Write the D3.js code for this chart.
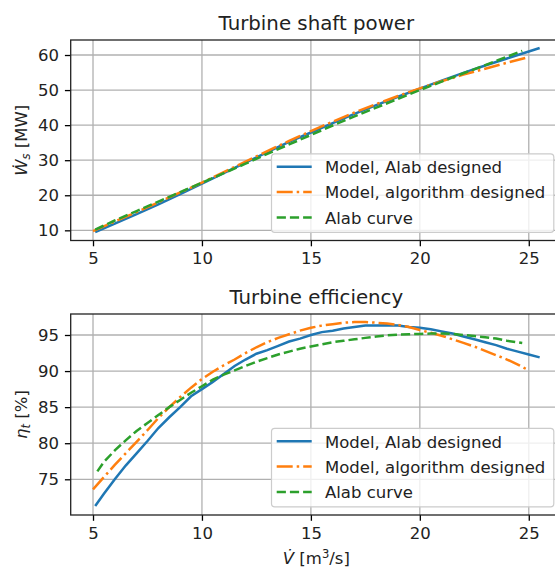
<!DOCTYPE html>
<html>
<head>
<meta charset="utf-8">
<script src="https://cdn.jsdelivr.net/npm/d3@7"></script>
<style>
  body { margin: 0; background: #fff; }
  svg { display: block; font-family: "DejaVu Sans", sans-serif; }
</style>
</head>
<body>
<svg width="555" height="571"></svg>
<script>
// top panel: shaft power [MW]
const xBluePow = [5.1, 6, 7, 8, 9, 10, 11, 12, 13, 14, 15, 16, 17, 18, 19, 20, 21, 22, 23, 24, 25, 25.5];
const bluePow = [9.5, 11.9, 14.6, 17.4, 20.3, 23.3, 26.3, 29.3, 32.3, 35.2, 37.9, 40.6, 43.2, 45.7, 48.1, 50.4, 52.7, 54.9, 57.0, 59.0, 61.0, 62.0];
const xOrangePow = [5, 6, 7, 8, 9, 10, 11, 12, 13, 14, 15, 16, 17, 18, 19, 20, 21, 22, 23, 24, 25];
const orangePow = [9.8, 12.5, 15.2, 18.0, 20.8, 23.6, 26.6, 29.6, 32.6, 35.5, 38.3, 41.0, 43.6, 46.0, 48.3, 50.5, 52.5, 54.4, 56.1, 57.8, 59.4];
const xGreenPow = [5.1, 6, 7, 8, 9, 10, 11, 12, 13, 14, 15, 16, 17, 18, 19, 20, 21, 22, 23, 24, 24.7];
const greenPow = [10.2, 12.8, 15.5, 18.2, 20.9, 23.6, 26.3, 29.0, 31.8, 34.5, 37.2, 39.9, 42.5, 45.0, 47.5, 50.0, 52.4, 54.8, 57.1, 59.5, 61.2];

// bottom panel: efficiency [%]
const xBlueEff = [5.1, 5.5, 6, 6.5, 7, 7.5, 8, 8.5, 9, 9.5, 10, 10.5, 11, 11.5, 12, 12.5, 13, 13.5, 14, 14.5, 15, 15.5, 16, 16.5, 17, 17.5, 18, 18.5, 19, 19.5, 20, 20.5, 21, 21.5, 22, 22.5, 23, 23.5, 24, 24.5, 25, 25.5];
const blueEff = [71.3, 73.0, 75.0, 76.9, 78.6, 80.3, 82.1, 83.6, 85.0, 86.5, 87.5, 88.5, 89.6, 90.7, 91.6, 92.4, 92.9, 93.5, 94.1, 94.5, 95.0, 95.4, 95.6, 95.9, 96.1, 96.3, 96.3, 96.35, 96.3, 96.1, 96.0, 95.8, 95.5, 95.2, 94.8, 94.4, 94.0, 93.6, 93.1, 92.7, 92.3, 91.9];
const xOrangeEff = [5, 5.5, 6, 6.5, 7, 7.5, 8, 8.5, 9, 9.5, 10, 10.5, 11, 11.5, 12, 12.5, 13, 13.5, 14, 14.5, 15, 15.5, 16, 16.5, 17, 17.5, 18, 18.5, 19, 19.5, 20, 20.5, 21, 21.5, 22, 22.5, 23, 23.5, 24, 24.5, 25];
const orangeEff = [73.6, 75.3, 77.0, 78.6, 80.2, 81.8, 83.5, 85.0, 86.4, 87.7, 88.9, 89.9, 90.8, 91.6, 92.5, 93.3, 94.0, 94.6, 95.1, 95.6, 96.0, 96.3, 96.5, 96.7, 96.8, 96.8, 96.7, 96.6, 96.4, 96.1, 95.7, 95.3, 94.9, 94.4, 93.9, 93.4, 92.8, 92.2, 91.6, 90.9, 90.1];
const xGreenEff = [5.2, 5.5, 6, 6.5, 7, 7.5, 8, 8.5, 9, 9.5, 10, 10.5, 11, 11.5, 12, 12.5, 13, 13.5, 14, 14.5, 15, 15.5, 16, 16.5, 17, 17.5, 18, 18.5, 19, 19.5, 20, 20.5, 21, 21.5, 22, 22.5, 23, 23.5, 24, 24.7];
const greenEff = [76.1, 77.4, 79.0, 80.4, 81.7, 82.8, 83.9, 85.0, 86.0, 87.0, 87.9, 88.8, 89.5, 90.1, 90.7, 91.3, 91.8, 92.3, 92.7, 93.1, 93.4, 93.7, 94.0, 94.2, 94.4, 94.6, 94.8, 94.95, 95.05, 95.1, 95.15, 95.2, 95.2, 95.15, 95.0, 94.85, 94.7, 94.5, 94.2, 93.9];

const xTicks = [5, 10, 15, 20, 25];
const powTicks = [10, 20, 30, 40, 50, 60];
const effTicks = [75, 80, 85, 90, 95];
const legendLabels = ["Model, Alab designed", "Model, algorithm designed", "Alab curve"];
const colors = ["#1f77b4", "#ff7f0e", "#2ca02c"];
const dashes = [null, "16,4,2.5,4", "9.2,4"];

const svg = d3.select("svg");
const fs = 16.5;

function panel(cfg) {
  const x = d3.scaleLinear().domain([3.976, 26.525]).range([70.7, 562]);
  const y = d3.scaleLinear().domain(cfg.yDomain).range(cfg.yRange);
  const g = svg.append("g");
  const [top, bottom] = [cfg.yRange[1], cfg.yRange[0]];

  // grid
  g.selectAll(".gx").data(xTicks).join("line")
    .attr("x1", d => x(d)).attr("x2", d => x(d))
    .attr("y1", top).attr("y2", bottom)
    .attr("stroke", "#b0b0b0").attr("stroke-width", 1.3);
  g.selectAll(".gy").data(cfg.yTicks).join("line")
    .attr("x1", 70.7).attr("x2", 562)
    .attr("y1", d => y(d)).attr("y2", d => y(d))
    .attr("stroke", "#b0b0b0").attr("stroke-width", 1.3);

  // lines
  const line = d3.line().x(d => x(d[0])).y(d => y(d[1]));
  cfg.series.forEach((s, i) => {
    g.append("path")
      .datum(d3.zip(s[0], s[1]))
      .attr("d", line)
      .attr("fill", "none")
      .attr("stroke", colors[i])
      .attr("stroke-width", 2.5)
      .attr("stroke-dasharray", dashes[i]);
  });

  // axes
  const xAxis = g.append("g").attr("transform", `translate(0,${bottom})`)
    .call(d3.axisBottom(x).tickValues(xTicks).tickSize(5.8).tickPadding(6));
  const yAxis = g.append("g").attr("transform", "translate(70.7,0)")
    .call(d3.axisLeft(y).tickValues(cfg.yTicks).tickSize(5.8).tickPadding(6));
  [xAxis, yAxis].forEach(a => {
    a.select(".domain").remove();
    a.selectAll("line").attr("stroke", "#000").attr("stroke-width", 1.3);
    a.selectAll("text").attr("font-size", fs).attr("fill", "#222")
      .attr("font-family", "DejaVu Sans");
  });

  // frame
  g.append("rect").attr("x", 70.7).attr("y", top)
    .attr("width", 562 - 70.7).attr("height", bottom - top)
    .attr("fill", "none").attr("stroke", "#222").attr("stroke-width", 1.3);

  // title
  g.append("text").attr("x", (70.7 + 562) / 2).attr("y", top - 10)
    .attr("text-anchor", "middle").attr("font-size", fs * 1.2).attr("fill", "#222")
    .text(cfg.title);

  // y label
  const yl = g.append("text")
    .attr("transform", `translate(26.5,${(top + bottom) / 2}) rotate(-90)`)
    .attr("text-anchor", "middle").attr("font-size", fs).attr("fill", "#222");
  cfg.ylabel(yl);

  // legend
  const lx = 271.5, lb = bottom - 8.2, lh = 78.5, ly = lb - lh;
  const lg = g.append("g");
  lg.append("rect").attr("x", lx).attr("y", ly).attr("width", 562 - 8.2 - lx).attr("height", lh)
    .attr("rx", 3.3).attr("fill", "#fff").attr("fill-opacity", 0.8)
    .attr("stroke", "#cccccc").attr("stroke-width", 1.2);
  legendLabels.forEach((lab, i) => {
    const yy = ly + 13 + i * 25.3;
    lg.append("line").attr("x1", 276.7).attr("x2", 311.7).attr("y1", yy).attr("y2", yy)
      .attr("stroke", colors[i]).attr("stroke-width", 2.5)
      .attr("stroke-dasharray", dashes[i]);
    lg.append("text").attr("x", 325).attr("y", yy + 6.3)
      .attr("font-size", fs).attr("fill", "#222").text(lab);
  });
  return { x, y, bottom };
}

panel({
  title: "Turbine shaft power",
  yDomain: [7.1, 64.28], yRange: [240.5, 40], yTicks: powTicks,
  series: [[xBluePow, bluePow], [xOrangePow, orangePow], [xGreenPow, greenPow]],
  ylabel: t => {
    t.append("tspan").attr("font-style", "italic").text("W\u0307");
    t.append("tspan").attr("font-style", "italic").attr("font-size", fs * 0.7)
      .attr("dy", 3).text("s");
    t.append("tspan").attr("dy", -3).text(" [MW]");
  }
});

panel({
  title: "Turbine efficiency",
  yDomain: [70.05, 97.91], yRange: [515, 314], yTicks: effTicks,
  series: [[xBlueEff, blueEff], [xOrangeEff, orangeEff], [xGreenEff, greenEff]],
  ylabel: t => {
    t.append("tspan").attr("font-style", "italic").text("\u03b7");
    t.append("tspan").attr("font-style", "italic").attr("font-size", fs * 0.7)
      .attr("dy", 3).text("t");
    t.append("tspan").attr("dy", -3).text(" [%]");
  }
});

// x label
const xl = svg.append("text").attr("x", (70.7 + 562) / 2).attr("y", 564)
  .attr("text-anchor", "middle").attr("font-size", fs).attr("fill", "#222");
xl.append("tspan").attr("font-style", "italic").text("V\u0307");
xl.append("tspan").text(" [m");
xl.append("tspan").attr("font-size", fs * 0.7).attr("dy", -6).text("3");
xl.append("tspan").attr("dy", 6).text("/s]");
</script>
</body>
</html>
